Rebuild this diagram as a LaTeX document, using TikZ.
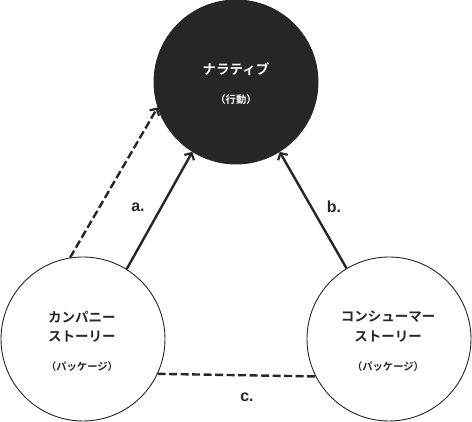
\documentclass[tikz,border=0pt]{standalone}
\usepackage{fontspec}
\setmainfont{Liberation Sans}
\newfontfamily\jpfont{Noto Sans CJK JP}[BoldFont={* Bold}]
\usetikzlibrary{arrows.meta}
\definecolor{ink}{HTML}{262626}
\tikzset{
  circ/.style={circle, draw=ink, line width=0.9pt, minimum size=164pt, inner sep=0pt},
  jtitle/.style={font=\jpfont\bfseries\fontsize{13.5}{14}\selectfont, text=ink, inner sep=0pt},
  jsub/.style={font=\jpfont\bfseries\fontsize{10.3}{11}\selectfont, text=ink, inner sep=0pt},
  conn/.style={draw=ink, line width=2.4pt, -{Straight Barb[length=5pt,width=11pt,line width=2.2pt]}},
  dashconn/.style={draw=ink, line width=2.4pt, dash pattern=on 8pt off 3.5pt},
  lbl/.style={font=\bfseries\fontsize{16}{17}\selectfont, text=ink, inner sep=0pt}
}
\begin{document}
\begin{tikzpicture}[x=1pt, y=-1pt]
\useasboundingbox (0,0) rectangle (472,422);
\node[circ, fill=ink] (N) at (236,82) {};
\node[circ] (L) at (83,339) {};
\node[circ] (R) at (389,339) {};
\node[jtitle, text=white] (nt) at (236,69) {ナラティブ};
\node[jsub, text=white] (ns) at (236,100) {（行動）};
\node[jtitle] (lt1) at (82,317) {カンパニー};
\node[jtitle] (lt2) at (82,337) {ストーリー};
\node[jsub] (ls) at (82,367) {（パッケージ）};
\node[jtitle] (rt1) at (388,317) {コンシューマー};
\node[jtitle] (rt2) at (388,337) {ストーリー};
\node[jsub] (rs) at (388,367) {（パッケージ）};
\draw[dashconn, -{Straight Barb[length=5pt,width=11pt,line width=2.2pt]}] (L.99) -- (N.198);
\draw[conn] (L.58) -- (N.238);
\draw[conn] (R.121) -- (N.302);
\draw[dashconn] (L.-25) -- (R.207);
\node[lbl] (la) at (138,207) {a.};
\node[lbl] (lb) at (334,207) {b.};
\node[lbl] (lc) at (247,397) {c.};
\end{tikzpicture}
\end{document}
